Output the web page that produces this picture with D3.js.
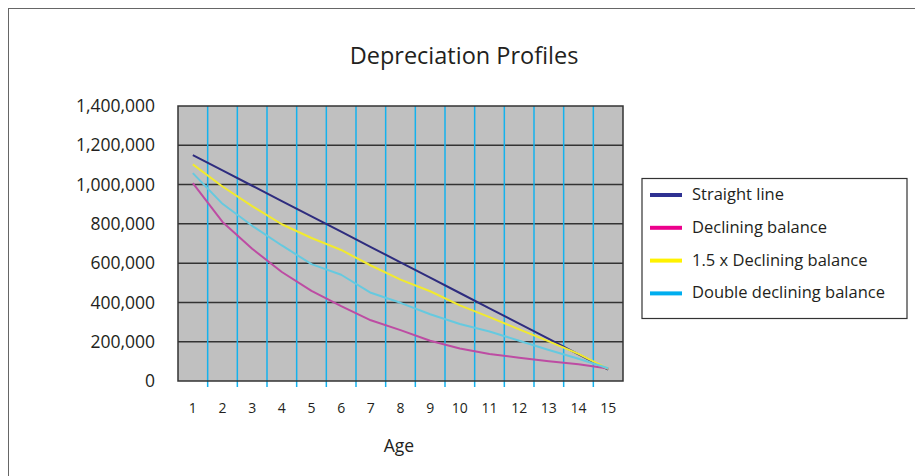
<!DOCTYPE html>
<html>
<head>
<meta charset="utf-8">
<script src="https://cdn.jsdelivr.net/npm/d3@7"></script>
<style>
	html, body { margin: 0; padding: 0; background: #fff; }
	#canvas { width: 915px; height: 476px; }
	text { font-family: 'Open Sans', 'Noto Sans', sans-serif; fill: #231f20; }
</style>
</head>
<body>
<div id="canvas"></div>
<script>
const ages = [1, 2, 3, 4, 5, 6, 7, 8, 9, 10, 11, 12, 13, 14, 15];
const seriesNames = ['Straight line', 'Declining balance', '1.5 x Declining balance', 'Double declining balance'];
const straightLine = [1150000, 1072000, 994000, 916000, 838000, 760000, 682000, 604000, 526000, 448000, 370000, 292000, 214000, 136000, 58000];
const decliningBalance = [1007000, 810000, 673000, 555000, 459000, 381000, 309000, 259000, 205000, 165000, 138000, 118000, 100000, 85000, 64000];
const decliningBalance15 = [1103000, 990000, 890000, 798000, 728000, 667000, 588000, 516000, 457000, 385000, 325000, 263000, 202000, 138000, 62000];
const doubleDeclining = [1058000, 902000, 790000, 690000, 595000, 541000, 449000, 398000, 340000, 290000, 252000, 205000, 158000, 113000, 65000];
const yTicks = [0, 200000, 400000, 600000, 800000, 1000000, 1200000, 1400000];

const lineColors = ['#2e2c7e', '#bd4ca3', '#f1ea2e', '#66c9df'];
const legendColors = ['#2e3192', '#ec008c', '#fff200', '#00aeef'];

const allSeries = [straightLine, decliningBalance, decliningBalance15, doubleDeclining];

const width = 915;
const height = 476;
const plot = { left: 178, right: 623, top: 106, bottom: 381 };

const svg = d3.select('#canvas').append('svg').attr('width', width).attr('height', height);

// outer frame
svg.append('rect')
	.attr('x', 8.5).attr('y', 8.5)
	.attr('width', 1000).attr('height', 1000)
	.attr('fill', 'none').attr('stroke', '#666').attr('stroke-width', 1);

const x = d3.scaleBand().domain(ages).range([plot.left, plot.right]).padding(0);
const y = d3.scaleLinear().domain([0, 1400000]).range([plot.bottom, plot.top]);

svg.append('text')
	.attr('x', 464).attr('y', 64)
	.attr('text-anchor', 'middle')
	.attr('font-size', 23.5)
	.text('Depreciation Profiles');

// plot area
svg.append('rect')
	.attr('x', plot.left).attr('y', plot.top)
	.attr('width', plot.right - plot.left).attr('height', plot.bottom - plot.top)
	.attr('fill', '#c0c0c0');

svg.append('g')
	.selectAll('line')
	.data(yTicks.slice(1, -1))
	.join('line')
	.attr('x1', plot.left).attr('x2', plot.right)
	.attr('y1', d => y(d)).attr('y2', d => y(d))
	.attr('stroke', '#333').attr('stroke-width', 1.5);

// vertical grid between categories, running down as ticks
svg.append('g')
	.selectAll('line')
	.data(ages.slice(1))
	.join('line')
	.attr('x1', d => x(d)).attr('x2', d => x(d))
	.attr('y1', plot.top).attr('y2', plot.bottom + 6)
	.attr('stroke', '#14b2ee').attr('stroke-width', 1.5);

svg.append('rect')
	.attr('x', plot.left).attr('y', plot.top)
	.attr('width', plot.right - plot.left).attr('height', plot.bottom - plot.top)
	.attr('fill', 'none').attr('stroke', '#333').attr('stroke-width', 1.5);

// y labels
svg.append('g')
	.selectAll('text')
	.data(yTicks)
	.join('text')
	.attr('x', 155)
	.attr('y', d => y(d))
	.attr('dy', '0.35em')
	.attr('text-anchor', 'end')
	.attr('font-size', 17.5)
	.text(d => d3.format(',')(d));

// x labels
svg.append('g')
	.selectAll('text')
	.data(ages)
	.join('text')
	.attr('x', d => x(d) + x.bandwidth() / 2)
	.attr('y', 413)
	.attr('text-anchor', 'middle')
	.attr('font-size', 14)
	.text(d => d);

svg.append('text')
	.attr('x', 399).attr('y', 452)
	.attr('text-anchor', 'middle')
	.attr('font-size', 17.5)
	.text('Age');

const line = d3.line()
	.x((d, i) => x(ages[i]) + x.bandwidth() / 2)
	.y(d => y(d));

svg.append('g')
	.selectAll('path')
	.data(allSeries)
	.join('path')
	.attr('d', d => line(d))
	.attr('fill', 'none')
	.attr('stroke', (d, i) => lineColors[i])
	.attr('stroke-width', 2)
	.attr('stroke-linejoin', 'round');

// legend
const legend = svg.append('g');
legend.append('rect')
	.attr('x', 642).attr('y', 178.5)
	.attr('width', 265).attr('height', 140)
	.attr('fill', '#fff').attr('stroke', '#333').attr('stroke-width', 1.2);

const rows = legend.selectAll('g')
	.data(seriesNames)
	.join('g')
	.attr('transform', (d, i) => `translate(0, ${195 + i * 32.8})`);

rows.append('line')
	.attr('x1', 650).attr('x2', 682)
	.attr('y1', 0).attr('y2', 0)
	.attr('stroke', (d, i) => legendColors[i])
	.attr('stroke-width', 4);

rows.append('text')
	.attr('x', 692)
	.attr('dy', '0.3em')
	.attr('font-size', 16.5)
	.text(d => d);
</script>
</body>
</html>
